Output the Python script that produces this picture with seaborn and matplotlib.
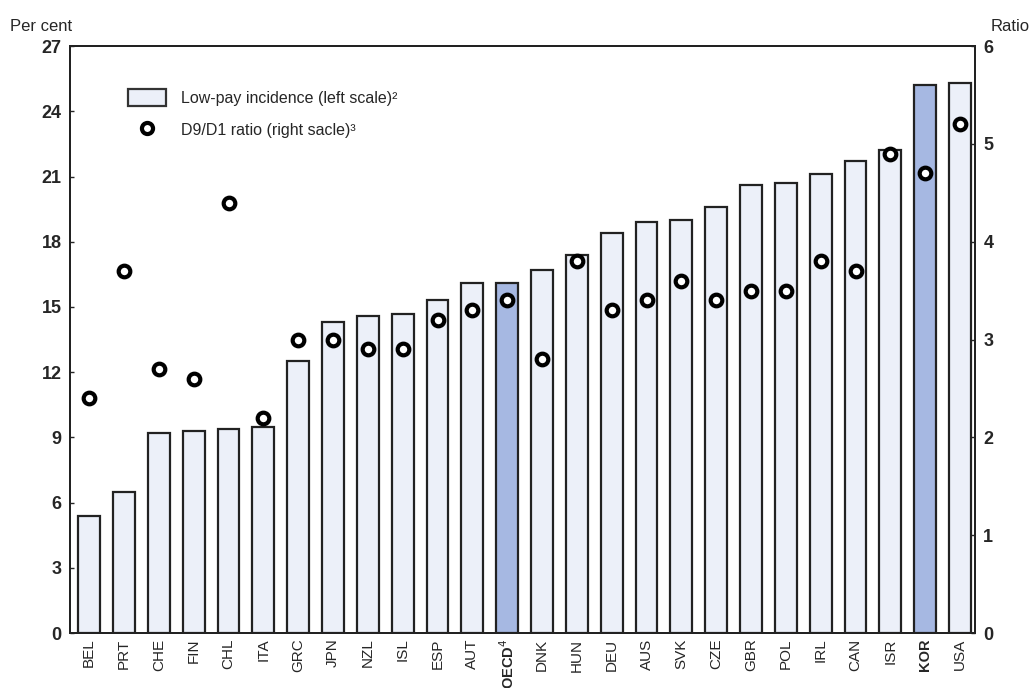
import matplotlib
matplotlib.use("Agg")
import matplotlib.pyplot as plt
import seaborn as sns
import pandas as pd
from matplotlib.patches import Patch
from matplotlib.lines import Line2D

# Data
countries = ["BEL", "PRT", "CHE", "FIN", "CHL", "ITA", "GRC", "JPN", "NZL", "ISL",
             "ESP", "AUT", "OECD", "DNK", "HUN", "DEU", "AUS", "SVK", "CZE", "GBR",
             "POL", "IRL", "CAN", "ISR", "KOR", "USA"]
low_pay = [5.4, 6.5, 9.2, 9.3, 9.4, 9.5, 12.5, 14.3, 14.6, 14.7,
           15.3, 16.1, 16.1, 16.7, 17.4, 18.4, 18.9, 19.0, 19.6, 20.6,
           20.7, 21.1, 21.7, 22.2, 25.2, 25.3]
d9_d1 = [2.4, 3.7, 2.7, 2.6, 4.4, 2.2, 3.0, 3.0, 2.9, 2.9,
         3.2, 3.3, 3.4, 2.8, 3.8, 3.3, 3.4, 3.6, 3.4, 3.5,
         3.5, 3.8, 3.7, 4.9, 4.7, 5.2]
highlight = ["OECD", "KOR"]
tick_labels = [c + "$^4$" if c == "OECD" else c for c in countries]

LIGHT = "#ECF0F9"
DARK = "#A6B8E2"

sns.set_theme(style="white")
plt.rcParams["font.family"] = ["Liberation Sans", "DejaVu Sans"]

df = pd.DataFrame({"country": countries, "low_pay": low_pay, "ratio": d9_d1})
palette = {c: (DARK if c in highlight else LIGHT) for c in countries}

fig = plt.figure(figsize=(10.36, 6.88), dpi=100)
ax = fig.add_axes([0.0676, 0.0799, 0.8735, 0.853])

sns.barplot(data=df, x="country", y="low_pay", hue="country", palette=palette,
            legend=False, width=0.63, edgecolor="#222222", linewidth=1.6,
            saturation=1, ax=ax)
ax.set_ylim(0, 27)
ax.set_yticks(range(0, 28, 3))
ax.set_xlim(-0.55, len(countries) - 0.57)
ax.set_xlabel("")
ax.set_ylabel("")
ax.set_xticks(range(len(countries)))
ax.set_xticklabels(tick_labels, rotation=90, fontsize=11)
for lab in ax.get_xticklabels():
    if lab.get_text().startswith(("OECD", "KOR")):
        lab.set_fontweight("bold")
        lab.set_fontsize(10.5)
for lab in ax.get_yticklabels():
    lab.set_fontweight("bold")
ax.tick_params(axis="y", labelsize=13, direction="in", length=3, width=1, pad=6)
ax.tick_params(axis="x", direction="in", length=2, width=1.5, pad=4)

ax2 = ax.twinx()
sns.scatterplot(data=df, x="country", y="ratio", marker="o", s=70,
                facecolor="white", edgecolor="black", linewidth=3, zorder=5, ax=ax2)
ax2.set_ylim(0, 6)
ax2.set_yticks(range(0, 7))
ax2.set_ylabel("")
ax2.tick_params(axis="y", labelsize=13, direction="in", length=3, width=1, pad=6)
for lab in ax2.get_yticklabels():
    lab.set_fontweight("bold")

for a in (ax, ax2):
    for s in a.spines.values():
        s.set_color("#222222")
        s.set_linewidth(1.4)

handles = [
    Patch(facecolor=LIGHT, edgecolor="#333333", linewidth=1.6),
    Line2D([], [], linestyle="none", marker="o", markersize=8,
           markerfacecolor="white", markeredgecolor="black", markeredgewidth=3),
]
labels = ["Low-pay incidence (left scale)\u00b2", "D9/D1 ratio (right sacle)\u00b3"]
ax.legend(handles, labels, loc="upper left", bbox_to_anchor=(0.048, 0.952),
          frameon=False, fontsize=11.5, handlelength=2.4, handleheight=1.3,
          handletextpad=0.9, labelspacing=0.95)

fig.text(0.01, 0.962, "Per cent", fontsize=12, ha="left", va="center")
fig.text(0.994, 0.962, "Ratio", fontsize=12, ha="right", va="center")

fig.savefig("out.png", dpi=100)
